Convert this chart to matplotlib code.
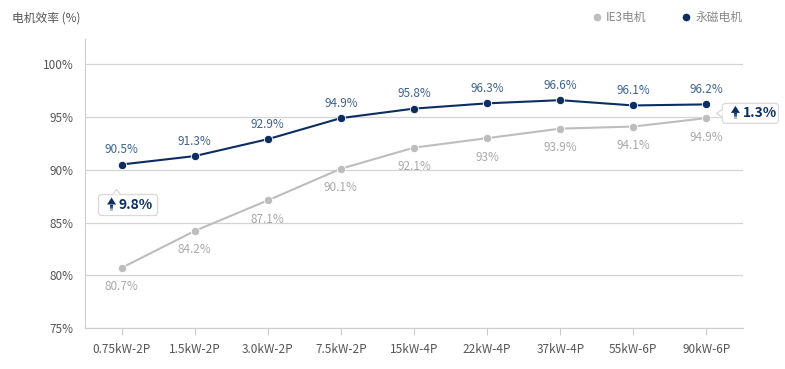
import matplotlib
matplotlib.use("Agg")
import matplotlib.pyplot as plt
import matplotlib.transforms as mtransforms
from matplotlib.patches import FancyBboxPatch, Polygon
from matplotlib.lines import Line2D

plt.rcParams['font.family'] = ['Noto Sans CJK SC', 'DejaVu Sans']

categories = ["0.75kW-2P", "1.5kW-2P", "3.0kW-2P", "7.5kW-2P", "15kW-4P",
              "22kW-4P", "37kW-4P", "55kW-6P", "90kW-6P"]
ie3 = [80.7, 84.2, 87.1, 90.1, 92.1, 93, 93.9, 94.1, 94.9]
pm = [90.5, 91.3, 92.9, 94.9, 95.8, 96.3, 96.6, 96.1, 96.2]
ie3_labels = ["80.7%", "84.2%", "87.1%", "90.1%", "92.1%", "93%", "93.9%", "94.1%", "94.9%"]
pm_labels = ["90.5%", "91.3%", "92.9%", "94.9%", "95.8%", "96.3%", "96.6%", "96.1%", "96.2%"]
yticks = [75, 80, 85, 90, 95, 100]

NAVY = "#0c2d62"
GRAY = "#bdbdbd"
PM_TXT = "#3f6390"
IE3_TXT = "#a9a9a9"
AXIS = "#cccccc"
TXT = "#555555"

fig = plt.figure(figsize=(7.85, 3.69), dpi=100)
ax = fig.add_axes([85 / 785, 1 - 328 / 369, 658 / 785, 289 / 369])

x = list(range(len(categories)))
ax.plot(x, ie3, color=GRAY, lw=1.5, marker="o", ms=6, mfc=GRAY, mec="white", mew=0.6, zorder=3)
ax.plot(x, pm, color=NAVY, lw=1.5, marker="o", ms=6, mfc=NAVY, mec="white", mew=0.6, zorder=4)

for i in x:
    ax.annotate(pm_labels[i], (i, pm[i]), xytext=(0, 6), textcoords="offset points",
                ha="center", va="bottom", fontsize=8.5, color=PM_TXT)
    ax.annotate(ie3_labels[i], (i, ie3[i]), xytext=(0, -9), textcoords="offset points",
                ha="center", va="top", fontsize=8.5, color=IE3_TXT)

ax.set_xlim(-0.5, len(categories) - 0.5)
ax.set_ylim(75, 102.4)
ax.set_yticks(yticks)
ax.set_yticklabels([f"{v}%" for v in yticks])
ax.set_xticks(x)
ax.set_xticklabels(categories)
ax.grid(axis="y", color="#d4d4d4", lw=0.9)
ax.set_axisbelow(True)
for s in ["top", "right"]:
    ax.spines[s].set_visible(False)
ax.spines["left"].set_color(AXIS)
ax.spines["bottom"].set_color(AXIS)
ax.tick_params(axis="y", length=0, pad=8, labelsize=8.5, labelcolor=TXT)
ax.tick_params(axis="x", length=5, color=AXIS, pad=6, labelsize=8.5, labelcolor=TXT)


def diff_box(i, anchor_y, box, tip, text):
    # box/tip given in pixels relative to the data point (i, anchor_y)
    trans = fig.dpi_scale_trans + mtransforms.ScaledTranslation(i, anchor_y, ax.transData)
    px = 1 / 100
    x0, y0, w, h = box
    ax.add_patch(FancyBboxPatch((x0 * px, y0 * px), w * px, h * px,
                                boxstyle="round,pad=0,rounding_size=0.03",
                                fc="white", ec="#d9d9d9", lw=0.9, transform=trans,
                                clip_on=False, zorder=6))
    ax.add_patch(Polygon([(p[0] * px, p[1] * px) for p in tip], closed=False,
                         fc="white", ec="#d9d9d9", lw=0.9, transform=trans,
                         clip_on=False, zorder=7))
    ax_ = x0 + 13
    ay = y0 + h / 2
    head = [(ax_ - 4.5, ay + 0.5), (ax_ + 4.5, ay + 0.5), (ax_, ay + 7.5)]
    ax.add_patch(Polygon([(p[0] * px, p[1] * px) for p in head], fc=NAVY, ec="none",
                         transform=trans, clip_on=False, zorder=8))
    for k, a in enumerate([1.0, 0.8, 0.55, 0.3]):
        yy = ay + 0.5 - 1.5 * (k + 1)
        ax.add_patch(Polygon([((ax_ - 1.6) * px, yy * px), ((ax_ + 1.6) * px, yy * px),
                              ((ax_ + 1.6) * px, (yy + 1.5) * px), ((ax_ - 1.6) * px, (yy + 1.5) * px)],
                             fc=NAVY, ec="none", alpha=a, transform=trans, clip_on=False, zorder=8))
    ax.text((x0 + 20) * px, ay * px, text, transform=trans, ha="left", va="center",
            fontsize=10, fontweight="bold", color=NAVY, zorder=9)


d0 = pm[0] - ie3[0]
d8 = pm[-1] - ie3[-1]
# left box, below the first permanent magnet point, pointer on top
diff_box(0, pm[0], (-23, -51, 59, 21),
         [(-9, -30.2), (-5, -25), (-1, -30.2)], f"{d0:.1f}%")
# right box, beside the last points, pointer on the left
diff_box(8, pm[-1], (16, -19, 56, 20),
         [(16.3, -5), (10, -9), (16.3, -13)], f"{d8:.1f}%")

fig.text(12 / 785, 1 - 18 / 369, "电机效率 (%)", ha="left", va="center", fontsize=8.5, color=TXT)

fig.add_artist(Line2D([597 / 785], [1 - 17 / 369], marker="o", ms=4.5, color=GRAY,
                      transform=fig.transFigure))
fig.text(606 / 785, 1 - 17 / 369, "IE3电机", ha="left", va="center", fontsize=8.5, color="#888888")
fig.add_artist(Line2D([686 / 785], [1 - 17 / 369], marker="o", ms=4.5, color=NAVY,
                      transform=fig.transFigure))
fig.text(696 / 785, 1 - 17 / 369, "永磁电机", ha="left", va="center", fontsize=8.5, color="#888888")

fig.savefig("out.png", dpi=100)
